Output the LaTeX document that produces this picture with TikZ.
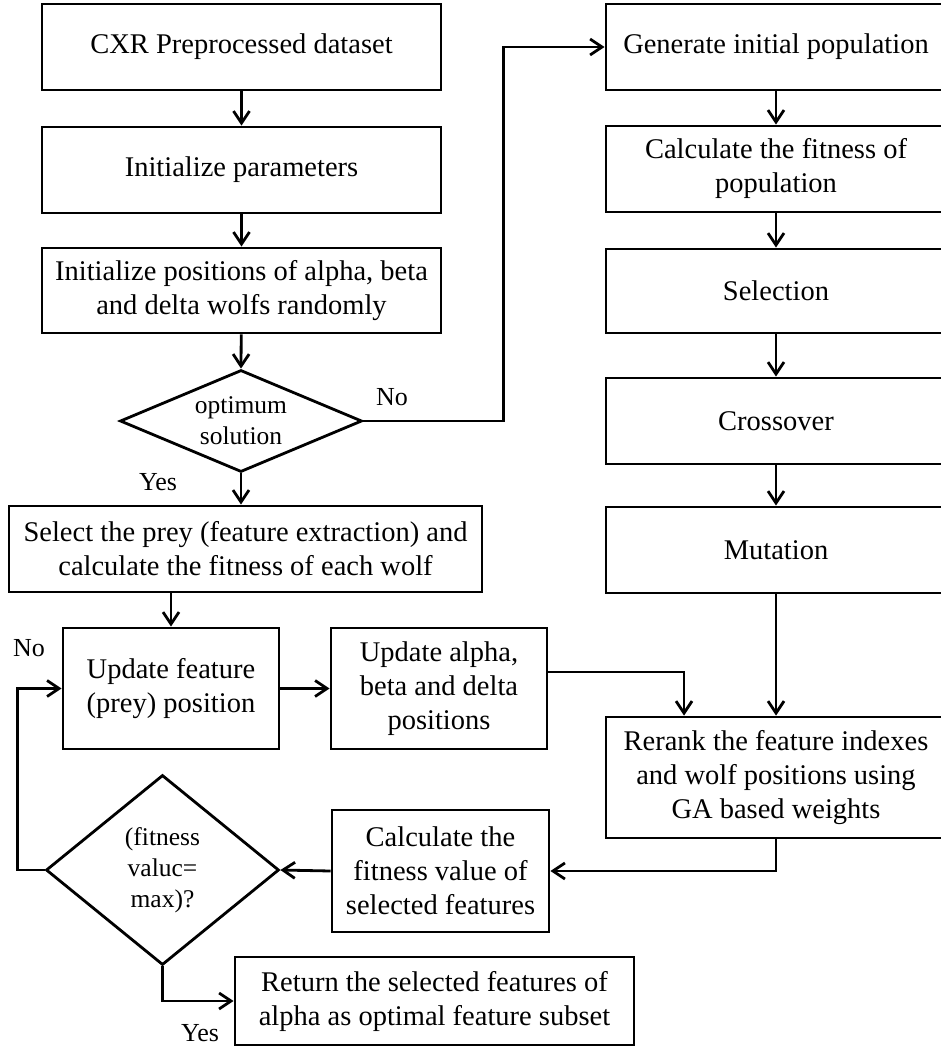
\documentclass[tikz,border=0pt]{standalone}
\usepackage{fontspec}
\setmainfont{Liberation Serif}
\usetikzlibrary{arrows.meta,shapes.geometric,calc}
\begin{document}
\begin{tikzpicture}[x=1pt,y=-1pt,
  box/.style={draw, line width=2.8pt, align=center, inner sep=0pt, font=\fontsize{28.5}{34}\selectfont},
  dia/.style={draw, diamond, line width=2.8pt, inner sep=0pt},
  dtext/.style={align=center, inner sep=0pt, font=\fontsize{25.5}{31}\selectfont},
  lbl/.style={inner sep=0pt, font=\fontsize{26}{30}\selectfont},
  arr/.style={line width=2.8pt, -{Straight Barb[length=12pt,width=16pt,line width=2.8pt]}},
  ln/.style={line width=2.8pt}]
\useasboundingbox (0,0) rectangle (940,1048);
% left column
\node[box, minimum width=399pt, minimum height=86pt] (b1) at (241.5,47) {CXR Preprocessed dataset};
\node[box, minimum width=399pt, minimum height=86pt] (b2) at (241.5,170) {Initialize parameters};
\node[box, minimum width=399pt, minimum height=85pt] (b3) at (241.5,290.5) {Initialize positions of alpha, beta\\and delta wolfs randomly};
\node[dia, minimum width=242pt, minimum height=102pt] (d1) at (241,421) {};
\node[dtext] (d1t) at (241,421) {optimum\\solution};
\node[box, minimum width=473pt, minimum height=86pt] (b4) at (245.5,549) {Select the prey (feature extraction) and\\calculate the fitness of each wolf};
\node[box, minimum width=216pt, minimum height=121pt] (b5) at (171,688.5) {Update feature\\(prey) position};
\node[box, minimum width=216pt, minimum height=121pt] (b6) at (439,688.5) {Update alpha,\\beta and delta\\positions};
\node[dia, minimum width=233pt, minimum height=190pt] (d2) at (162.5,870) {};
\node[dtext] (d2t) at (162.5,870) {(fitness\\valuc=\\max)?};
\node[box, minimum width=217pt, minimum height=122pt] (b7) at (440.5,871) {Calculate the\\fitness value of\\selected features};
\node[box, minimum width=399pt, minimum height=88pt] (b8) at (434.5,1001) {Return the selected features of\\alpha as optimal feature subset};
% right column
\node[box, minimum width=340pt, minimum height=86pt] (r1) at (776,47) {Generate initial population};
\node[box, minimum width=340pt, minimum height=86pt] (r2) at (776,169) {Calculate the fitness of\\population};
\node[box, minimum width=340pt, minimum height=84pt] (r3) at (776,291) {Selection};
\node[box, minimum width=340pt, minimum height=86pt] (r4) at (776,421) {Crossover};
\node[box, minimum width=340pt, minimum height=86pt] (r5) at (776,550) {Mutation};
\node[box, minimum width=340pt, minimum height=121pt] (rr) at (776,777.5) {Rerank the feature indexes\\and wolf positions using\\GA based weights};
% labels
\node[lbl] (no1) at (392,397) {No};
\node[lbl] (yes1) at (158,482) {Yes};
\node[lbl] (no2) at (29,648) {No};
\node[lbl] (yes2) at (200,1033) {Yes};
% connectors
\draw[arr] (b1) -- (b2);
\draw[arr] (b2) -- (b3);
\draw[arr] (b3) -- (d1.north);
\draw[arr] (d1.south) -- (d1.south |- b4.north);
\draw[arr] (d1.east) -- ++(140,0) |- (r1.west);
\draw[arr] (r1) -- (r2);
\draw[arr] (r2) -- (r3);
\draw[arr] (r3) -- (r4);
\draw[arr] (r4) -- (r5);
\draw[arr] (r5) -- (rr);
\draw[arr] (b5.north |- b4.south) -- (b5.north);
\draw[arr] (b5.east) -- (b6.west);
\draw[arr] ([yshift=16.5pt]b6.east) -| ([xshift=-92pt]rr.north);
\draw[arr] (rr.south) |- (b7.east);
\draw[arr] (b7.west) -- (d2.east);
\draw[arr] (d2.west) -- ++(-27,0) |- (b5.west);
\draw[arr] (d2.south) |- (b8.west);
\end{tikzpicture}
\end{document}
